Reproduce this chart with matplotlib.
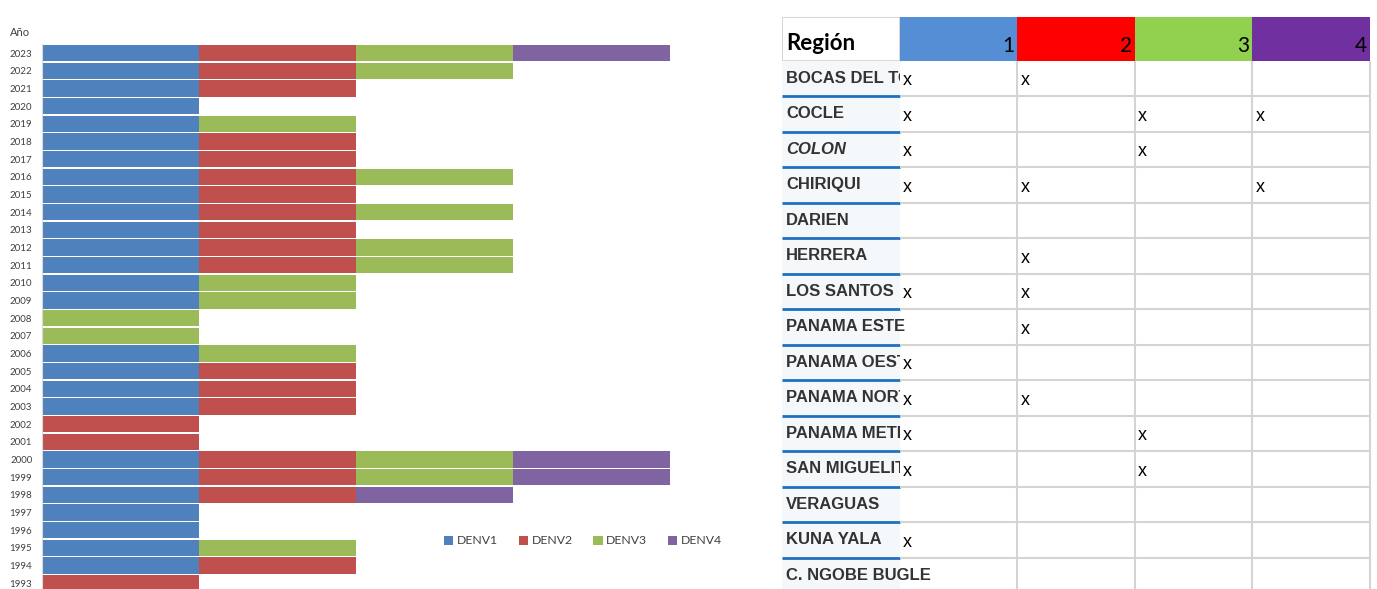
import matplotlib.pyplot as plt
from matplotlib.patches import Rectangle
from matplotlib.transforms import Bbox, TransformedBbox
import numpy as np

# presence of each serotype per year (1 = circulating)
years = list(range(2023, 1992, -1))
denv1 = [1,1,1,1,1,1,1,1,1,1,1,1,1,1,1,0,0,1,1,1,1,0,0,1,1,1,1,1,1,1,0]
denv2 = [1,1,1,0,0,1,1,1,1,1,1,1,1,0,0,0,0,0,1,1,1,1,1,1,1,1,0,0,0,1,1]
denv3 = [1,1,0,0,1,0,0,1,0,1,0,1,1,1,1,1,1,1,0,0,0,0,0,1,1,0,0,0,1,0,0]
denv4 = [1,0,0,0,0,0,0,0,0,0,0,0,0,0,0,0,0,0,0,0,0,0,0,1,1,1,0,0,0,0,0]
serotypes = ['DENV1', 'DENV2', 'DENV3', 'DENV4']
bar_colors = ['#4F81BD', '#C0504D', '#9BBB59', '#8064A2']

# region table
regions = ['BOCAS DEL TORO', 'COCLE', 'COLON', 'CHIRIQUI', 'DARIEN', 'HERRERA',
           'LOS SANTOS', 'PANAMA ESTE', 'PANAMA OESTE', 'PANAMA NORTE',
           'PANAMA METRO', 'SAN MIGUELITO', 'VERAGUAS', 'KUNA YALA', 'C. NGOBE BUGLE']
reg_d1 = [1,1,1,1,0,0,1,0,1,1,1,1,0,1,0]
reg_d2 = [1,0,0,1,0,1,1,1,0,1,0,0,0,0,0]
reg_d3 = [0,1,1,0,0,0,0,0,0,0,1,1,0,0,0]
reg_d4 = [0,1,0,1,0,0,0,0,0,0,0,0,0,0,0]
header_nums = ['1', '2', '3', '4']
header_colors = ['#558ED5', '#FF0000', '#92D050', '#7030A0']

W, H = 1377, 589
fig = plt.figure(figsize=(W/100, H/100), dpi=100)

# ---- left: stacked bars ----
ax = fig.add_axes([42/W, 0, (748-42)/W, (H-40)/H])
pres = np.array([denv1, denv2, denv3, denv4], dtype=float)
left = np.zeros(len(years))
for k in range(4):
    ax.barh(years, pres[k], left=left, height=0.92, color=bar_colors[k],
            linewidth=0, label=serotypes[k])
    left += pres[k]
ax.set_xlim(0, 4.5)
ax.set_ylim(1992.67, 2023.74)
ax.set_yticks(years)
ax.set_yticklabels([str(y) for y in years], fontsize=7, color='#404040', family='Lato')
ax.tick_params(axis='y', length=0, pad=7)
ax.set_xticks([])
for s in ['top', 'right', 'bottom']:
    ax.spines[s].set_visible(False)
ax.spines['left'].set_color('#D9D9D9')
ax.spines['left'].set_bounds(1992.67, 2023.5)
fig.text(10/W, 1-33/H, 'Año', fontsize=8, color='#404040', family='Lato', va='center')
ax.legend(loc='center', bbox_to_anchor=(583/W, 1-541/H), bbox_transform=fig.transFigure,
          ncol=4, frameon=False, handlelength=0.75, handleheight=0.75,
          handletextpad=0.3, columnspacing=1.7, prop={'family': 'Lato', 'size': 8.8},
          labelcolor='#404040')

# ---- right: table ----
tb = fig.add_axes([782/W, 0, 590/W, (H-17)/H])
top = -(60.5-17)/35.5
bottom = (H-60.5)/35.5
tb.set_xlim(0, 5.02)
tb.set_ylim(bottom, top)
tb.axis('off')

tb.add_patch(Rectangle((0, top), 1, -top, facecolor='white', edgecolor='#D0D0D0', lw=1.2))
tb.text(0.04, -0.47, 'Región', fontsize=16, weight='bold', family='Lato', va='center', color='black')
for c in range(4):
    tb.add_patch(Rectangle((c+1, top), 1, -top, facecolor=header_colors[c], lw=0))
    tb.text(c+2-0.02, -0.42, header_nums[c], fontsize=15, family='Lato', ha='right',
            va='center', color='black')

marks = np.array([reg_d1, reg_d2, reg_d3, reg_d4])
n = len(regions)
for i in range(n):
    tb.add_patch(Rectangle((0, i), 1, 1, facecolor='#F5F8FA', lw=0))
    tb.plot([0, 1], [i+1, i+1], color='#1F70BF', lw=2, solid_capstyle='butt')
    tb.plot([1, 5], [i+1, i+1], color='#D4D4D4', lw=1.5, solid_capstyle='butt')
    t = tb.text(0.035, i+0.5, regions[i], fontsize=12, weight='bold',
                style='italic' if regions[i] == 'COLON' else 'normal',
                family='Liberation Sans', va='center', color='#333333')
    if reg_d1[i]:
        t.set_clip_box(TransformedBbox(Bbox.from_extents(0, -2, 1.0, 16), tb.transData))
        t.set_clip_on(True)
    for c in range(4):
        if marks[c, i]:
            tb.text(c+1.03, i+0.57, 'x', fontsize=13, family='Liberation Sans',
                    va='center', color='black')
for c in range(2, 6):
    tb.plot([c, c], [0, n], color='#D4D4D4', lw=1.5, solid_capstyle='butt')

fig.savefig('out.png', dpi=100)
